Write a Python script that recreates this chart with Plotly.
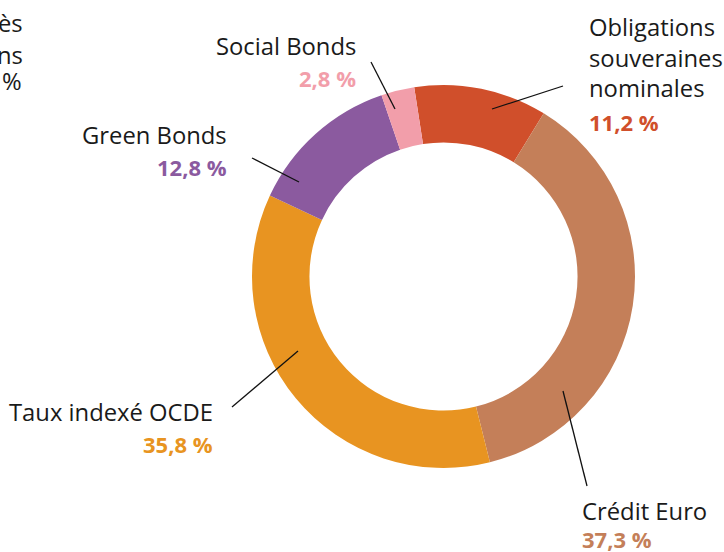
import plotly.graph_objects as go

W, H = 724, 552

categories = ["Obligations souveraines nominales", "Crédit Euro", "Taux indexé OCDE", "Green Bonds", "Social Bonds"]
values = [11.2, 37.3, 35.8, 12.8, 2.8]
colors = ["#D04F2B", "#C47F59", "#E89421", "#8B5A9F", "#F29EAA"]
label_lines = [["Obligations", "souveraines", "nominales"], ["Crédit Euro"], ["Taux indexé OCDE"], ["Green Bonds"], ["Social Bonds"]]
pct_texts = ["11,2 %", "37,3 %", "35,8 %", "12,8 %", "2,8 %"]

FONT = "Open Sans"
FS = 23.8
FS_PCT = 22

def px(x, y):
    return x / W, 1 - y / H

# donut geometry (pixels)
cx, cy, R = 443.5, 276.5, 191.5
x0, y0 = px(cx - R, cy + R)
x1, y1 = px(cx + R, cy - R)

fig = go.Figure(go.Pie(
    labels=categories, values=values, sort=False, direction="clockwise",
    rotation=-8.8, hole=0.70,
    marker=dict(colors=colors, line=dict(width=0)),
    textinfo="none", hoverinfo="label+percent", showlegend=False,
    domain=dict(x=[x0, x1], y=[y0, y1]),
))

# label placement: (anchor x px, first baseline y px, xanchor, line spacing, pct baseline)
placements = [
    (588, 36, "left", 30.5, 129.5),
    (581, 519.5, "left", 30.5, 546.5),
    (214, 421, "right", 30.5, 452),
    (228, 143.5, "right", 30.5, 175),
    (357, 55, "right", 30.5, 86),
]

annotations = []
def add_text(x, baseline, text, anchor, color="#1a1a1a", bold=False, size=FS):
    xp, yp = px(x, baseline - 0.36 * size)
    t = f"<b>{text}</b>" if bold else text
    annotations.append(dict(x=xp, y=yp, xref="paper", yref="paper", text=t,
                            showarrow=False, xanchor=anchor, yanchor="middle",
                            borderpad=0,
                            font=dict(family=FONT, size=size, color=color)))

for i, (ax, by, anc, ls, pby) in enumerate(placements):
    for j, line in enumerate(label_lines[i]):
        add_text(ax, by + j * ls, line, anc)
    add_text(ax, pby, pct_texts[i], anc, color=colors[i], bold=True, size=FS_PCT)

# cut-off label fragments at top-left edge
for txt, bx, by in [("ès", 24, 31.7), ("ns", 24, 63.3), ("%", 23, 90)]:
    add_text(bx, by, txt, "right")

# leader lines (pixels)
leaders = [
    ((563, 86), (492, 109)),
    ((563, 391), (587, 486)),
    ((232, 407), (298, 351)),
    ((252, 158), (299, 182)),
    ((371, 62), (395, 109)),
]
shapes = []
for (ax_, ay_), (bx_, by_) in leaders:
    p0 = px(ax_, ay_)
    p1 = px(bx_, by_)
    shapes.append(dict(type="line", xref="paper", yref="paper",
                       x0=p0[0], y0=p0[1], x1=p1[0], y1=p1[1],
                       line=dict(color="#111111", width=1.3)))

fig.update_layout(
    width=W, height=H, autosize=False,
    margin=dict(l=0, r=0, t=0, b=0),
    paper_bgcolor="white", plot_bgcolor="white",
    annotations=annotations, shapes=shapes,
    font=dict(family=FONT),
)

fig.write_html("out.html", config={"displayModeBar": False},
               post_script="document.body.style.margin='0';document.body.style.overflow='hidden';")
